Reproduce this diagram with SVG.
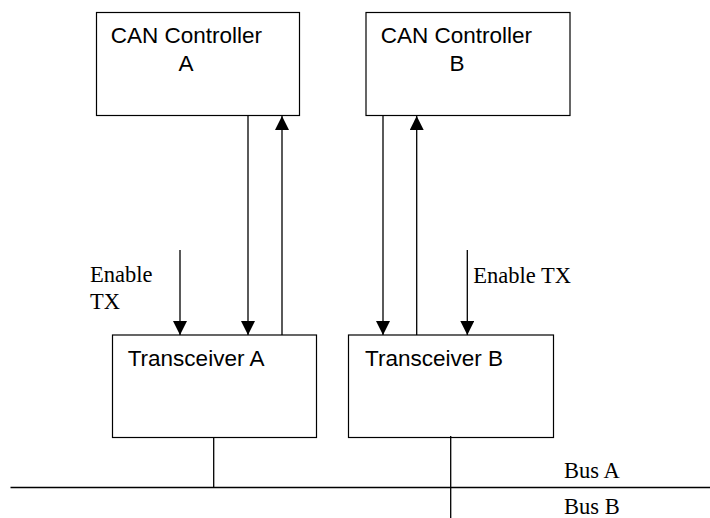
<svg xmlns="http://www.w3.org/2000/svg" width="710" height="518" viewBox="0 0 710 518">
<style>
.box{fill:#fff;stroke:#000;stroke-width:1.2}
.sans{font-family:"Liberation Sans",Arial,sans-serif;font-size:22.5px;fill:#000}
.serif{font-family:"Liberation Serif","Times New Roman",serif;font-size:22.5px;fill:#000}
.ln{stroke:#000;stroke-width:1.3;fill:none}
.arr{stroke:#000;stroke-width:1.3;fill:none;marker-end:url(#ah)}
</style>
<defs>
<marker id="ah" markerUnits="userSpaceOnUse" markerWidth="14" markerHeight="14" refX="14" refY="7" orient="auto">
<path d="M0,0 L14,7 L0,14 z" fill="#000"/>
</marker>
</defs>
<rect width="710" height="518" fill="#fff"/>
<g id="ctrlA">
<rect class="box" x="96.5" y="12.5" width="203" height="103"/>
<text class="sans" x="110.7" y="43">CAN Controller</text>
<text class="sans" x="178.5" y="71">A</text>
</g>
<g id="ctrlB">
<rect class="box" x="366" y="12.5" width="204" height="103"/>
<text class="sans" x="380.7" y="43">CAN Controller</text>
<text class="sans" x="449.5" y="71">B</text>
</g>
<g id="transA">
<rect class="box" x="112.5" y="335" width="204" height="102.5"/>
<text class="sans" x="127.7" y="365.5">Transceiver A</text>
</g>
<g id="transB">
<rect class="box" x="348.5" y="335" width="205" height="102.5"/>
<text class="sans" x="365" y="365.5">Transceiver B</text>
</g>
<g id="connectors">
<line class="arr" x1="248" y1="116" x2="248" y2="335"/>
<line class="arr" x1="282" y1="335" x2="282" y2="116"/>
<line class="arr" x1="180" y1="250" x2="180" y2="335"/>
<line class="arr" x1="383" y1="116" x2="383" y2="335"/>
<line class="arr" x1="416.7" y1="335" x2="416.7" y2="116"/>
<line class="arr" x1="467.3" y1="250" x2="467.3" y2="335"/>
<line class="ln" x1="213.7" y1="437" x2="213.7" y2="487.5"/>
<line class="ln" x1="450.7" y1="436" x2="450.7" y2="518"/>
<line class="ln" x1="10.5" y1="487.5" x2="710" y2="487.5"/>
</g>
<g id="labels">
<text class="serif" x="90" y="281.7">Enable</text>
<text class="serif" x="90" y="309">TX</text>
<text class="serif" x="473.3" y="282.7">Enable TX</text>
<text class="serif" x="564" y="477.7">Bus A</text>
<text class="serif" x="564" y="514.3">Bus B</text>
</g>
</svg>
